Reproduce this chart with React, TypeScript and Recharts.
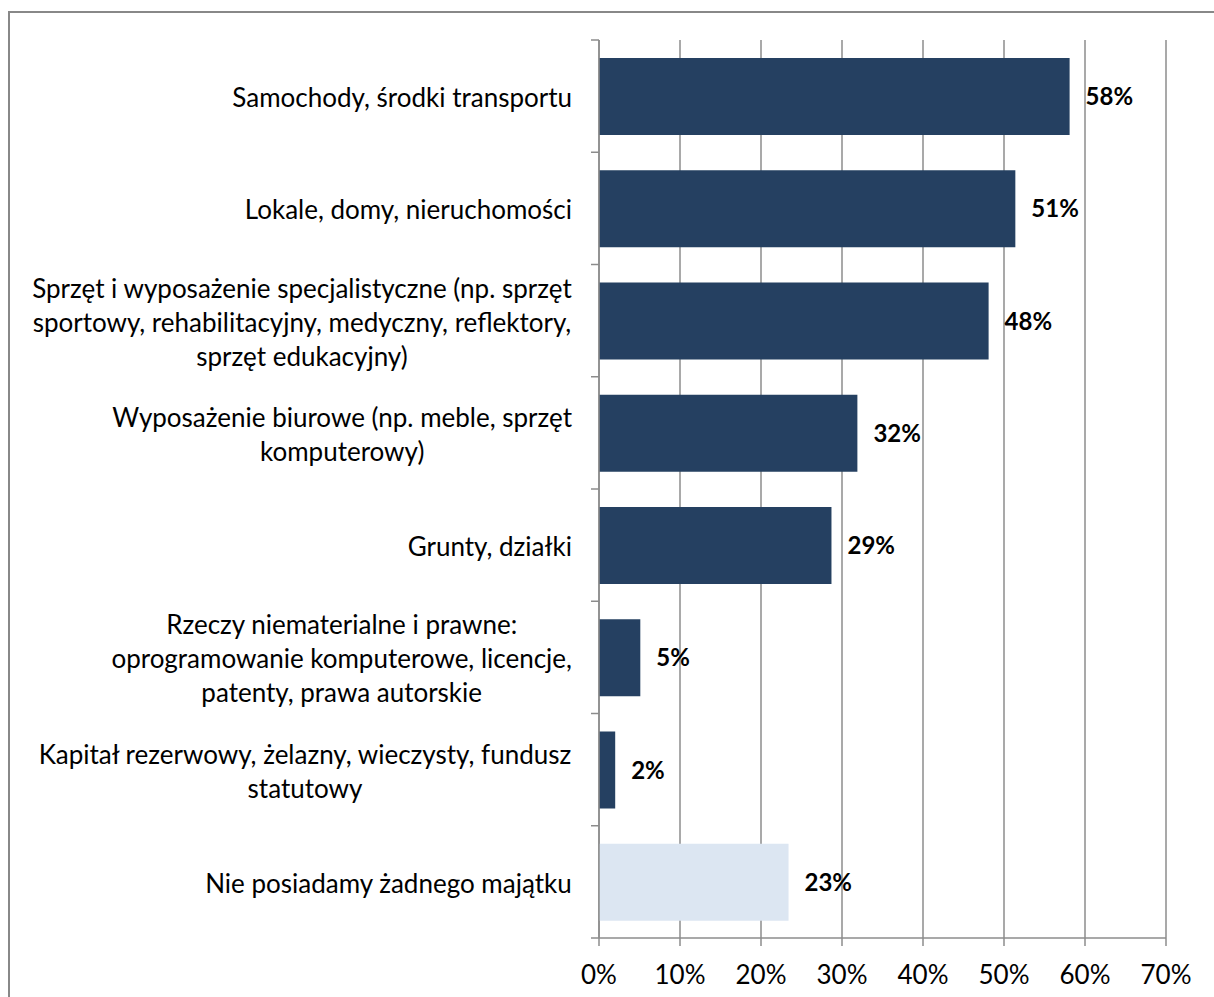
import React from 'react';
import { BarChart, Bar, XAxis, YAxis, CartesianGrid, Cell, LabelList } from 'recharts';

// category labels, already wrapped the way the original chart wraps them
const categoryLines: string[][] = [
  ['Samochody, środki transportu'],
  ['Lokale, domy, nieruchomości'],
  [
    'Sprzęt i wyposażenie specjalistyczne (np. sprzęt',
    'sportowy, rehabilitacyjny, medyczny, reflektory,',
    'sprzęt edukacyjny)',
  ],
  ['Wyposażenie biurowe (np. meble, sprzęt', 'komputerowy)'],
  ['Grunty, działki'],
  ['Rzeczy niematerialne i prawne:', 'oprogramowanie komputerowe, licencje,', 'patenty, prawa autorskie'],
  ['Kapitał rezerwowy, żelazny, wieczysty, fundusz', 'statutowy'],
  ['Nie posiadamy żadnego majątku'],
];

const shares = [58.1, 51.4, 48.1, 31.9, 28.7, 5.1, 2.0, 23.4];
const xTicks = [0, 10, 20, 30, 40, 50, 60, 70];

const rows = categoryLines.map((lines, i) => ({ name: lines.join(' '), lines, value: shares[i] }));

const W = 1214;
const H = 997;
const TOP = 40;
const BOTTOM_AXIS = 59;
const AXIS_X = 599;
const RIGHT = 48;
const PLOT_H = H - TOP - BOTTOM_AXIS;
const BAND = PLOT_H / rows.length;

const FONT = 'Lato';
const CAT_SIZE = 26;
const LINE_H = 34;
const LABEL_RIGHT = 572;
const GRID = '#8c8c8c';
const DARK = '#254061';
const LIGHT = '#dce6f2';

let ctx: CanvasRenderingContext2D | null = null;
const measure = (s: string) => {
  if (!ctx) ctx = document.createElement('canvas').getContext('2d');
  if (!ctx) return s.length * CAT_SIZE * 0.5;
  ctx.font = `${CAT_SIZE}px ${FONT}`;
  return ctx.measureText(s).width;
};

const CategoryTick = (props: any) => {
  const { y, index } = props;
  const row = rows[index];
  if (!row) return null;
  const blockW = Math.max(...row.lines.map(measure));
  const cx = LABEL_RIGHT - blockW / 2;
  const y0 = y + 1 - ((row.lines.length - 1) * LINE_H) / 2;
  return (
    <g>
      <line x1={AXIS_X - 8} x2={AXIS_X} y1={y - BAND / 2} y2={y - BAND / 2} stroke={GRID} strokeWidth={1.5} />
      {index === rows.length - 1 && (
        <line x1={AXIS_X - 8} x2={AXIS_X} y1={y + BAND / 2} y2={y + BAND / 2} stroke={GRID} strokeWidth={1.5} />
      )}
      <text x={cx} y={y0} textAnchor="middle" dominantBaseline="central" fontFamily={FONT} fontSize={CAT_SIZE} fill="#000">
        {row.lines.map((l, i) => (
          <tspan key={i} x={cx} dy={i === 0 ? 0 : LINE_H}>
            {l}
          </tspan>
        ))}
      </text>
    </g>
  );
};

export default function App() {
  return (
    <div style={{ position: 'absolute', left: 0, top: 0, width: W, height: H, background: '#fff', overflow: 'hidden' }}>
      <div
        style={{
          position: 'absolute',
          left: 8,
          top: 11,
          width: W - 8,
          height: H - 11,
          boxSizing: 'border-box',
          borderTop: '2px solid #888',
          borderLeft: '2px solid #888',
        }}
      />
      <div style={{ position: 'absolute', left: 0, top: 0 }}>
        <BarChart
          layout="vertical"
          width={W}
          height={H}
          data={rows}
          margin={{ top: TOP, right: RIGHT, bottom: 0, left: 0 }}
          barSize={77}
        >
          <CartesianGrid horizontal={false} stroke={GRID} strokeWidth={1.5} />
          <XAxis
            type="number"
            domain={[0, 70]}
            ticks={xTicks}
            interval={0}
            height={BOTTOM_AXIS}
            tickFormatter={(v) => `${v}%`}
            tick={{ fill: '#000', fontSize: CAT_SIZE, fontFamily: FONT }}
            tickSize={8}
            tickMargin={20}
            tickLine={{ stroke: GRID, strokeWidth: 1.5 }}
            axisLine={{ stroke: GRID, strokeWidth: 1.5 }}
          />
          <YAxis
            type="category"
            dataKey="name"
            width={AXIS_X}
            interval={0}
            tickLine={false}
            axisLine={{ stroke: GRID, strokeWidth: 1.5 }}
            tick={<CategoryTick />}
          />
          <Bar dataKey="value" isAnimationActive={false}>
            {rows.map((r, i) => (
              <Cell key={r.name} fill={i === rows.length - 1 ? LIGHT : DARK} />
            ))}
            <LabelList
              dataKey="value"
              position="right"
              offset={16}
              formatter={(v: any) => `${Math.round(Number(v))}%`}
              style={{ fill: '#000', fontWeight: 700, fontSize: 24, fontFamily: FONT }}
            />
          </Bar>
        </BarChart>
      </div>
    </div>
  );
}
